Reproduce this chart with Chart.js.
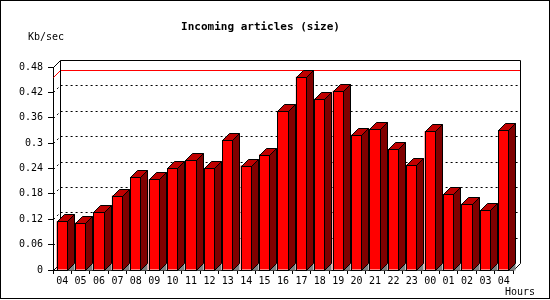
<!DOCTYPE html>
<html><head><meta charset="utf-8">
<style>html,body{margin:0;padding:0;background:#fff;overflow:hidden}</style>
<script src="https://cdn.jsdelivr.net/npm/chart.js@4/dist/chart.umd.min.js"></script>
</head><body>
<canvas id="c" width="550" height="300" style="display:block;width:550px;height:300px"></canvas>
<script>
const hours = ['04','05','06','07','08','09','10','11','12','13','14','15','16','17','18','19','20','21','22','23','00','01','02','03','04'];
const kbPerSec = [0.115,0.112,0.136,0.176,0.219,0.214,0.241,0.259,0.241,0.307,0.247,0.273,0.375,0.457,0.405,0.424,0.320,0.334,0.286,0.249,0.328,0.179,0.157,0.141,0.330];
const yTickValues = [0,0.06,0.12,0.18,0.24,0.30,0.36,0.42,0.48];
const yTickLabels = ['0','0.06','0.12','0.18','0.24','0.3','0.36','0.42','0.48'];
const chartTitle = 'Incoming articles (size)';
const yUnit = 'Kb/sec';
const xUnit = 'Hours';

const DEPTH = 7;

const depthPlugin = {
  id: 'depth3d',
  beforeDatasetsDraw(chart) {
    const ctx = chart.ctx, ca = chart.chartArea, ys = chart.scales.y;
    const L = Math.round(ca.left), R = Math.round(ca.right), T = Math.round(ca.top), B = Math.round(ca.bottom), D = DEPTH;
    ctx.save();
    ctx.lineWidth = 1;
    ctx.strokeStyle = '#000';
    ctx.setLineDash([2, 3]);
    yTickValues.forEach((v, i) => {
      if (i === 0 || i === yTickValues.length - 1) return;
      const y = Math.round(ys.getPixelForValue(v));
      ctx.beginPath();
      ctx.moveTo(L + 0.5, y + 0.5);
      ctx.lineTo(L + D + 0.5, y - D + 0.5);
      ctx.lineTo(R + D + 0.5, y - D + 0.5);
      ctx.stroke();
    });
    ctx.setLineDash([]);
    const maxV = Math.max(...kbPerSec);
    const my = Math.round(ys.getPixelForValue(maxV));
    ctx.strokeStyle = '#ff0000';
    ctx.beginPath();
    ctx.moveTo(L + 0.5, my + 0.5);
    ctx.lineTo(L + D + 0.5, my - D + 0.5);
    ctx.lineTo(R + D + 0.5, my - D + 0.5);
    ctx.stroke();
    ctx.strokeStyle = '#000';
    ctx.beginPath();
    ctx.moveTo(L + 0.5, T + 0.5); ctx.lineTo(L + D + 0.5, T - D + 0.5); ctx.lineTo(R + D + 0.5, T - D + 0.5); ctx.lineTo(R + D + 0.5, B - D + 0.5); ctx.lineTo(R + 0.5, B + 0.5);
    ctx.moveTo(L + D + 0.5, T - D + 0.5); ctx.lineTo(L + D + 0.5, B - D + 0.5); ctx.lineTo(L + 0.5, B + 0.5);
    ctx.stroke();
    ctx.restore();
  },
  afterDatasetsDraw(chart) {
    const ctx = chart.ctx, D = DEPTH;
    const meta = chart.getDatasetMeta(0);
    ctx.save();
    ctx.lineWidth = 1;
    ctx.strokeStyle = '#000';
    meta.data.forEach(el => {
      const p = el.getProps(['x', 'y', 'base', 'width'], true);
      const l = Math.round(p.x - p.width / 2), r = Math.round(p.x + p.width / 2) - 1;
      const t = Math.round(p.y), b = Math.round(p.base);
      ctx.fillStyle = '#808080';
      ctx.beginPath();
      ctx.moveTo(r + 0.5, b + 0.5); ctx.lineTo(r + D + 0.5, b - D + 0.5); ctx.lineTo(r + D + 0.5, b + 0.5); ctx.closePath();
      ctx.fill();
      ctx.fillStyle = '#800000';
      ctx.beginPath();
      ctx.moveTo(r + 0.5, t + 0.5); ctx.lineTo(r + D + 0.5, t - D + 0.5); ctx.lineTo(r + D + 0.5, b - D + 0.5); ctx.lineTo(r + 0.5, b + 0.5); ctx.closePath();
      ctx.fill(); ctx.stroke();
      ctx.fillStyle = '#c00000';
      ctx.beginPath();
      ctx.moveTo(l + 0.5, t + 0.5); ctx.lineTo(l + D + 0.5, t - D + 0.5); ctx.lineTo(r + D + 0.5, t - D + 0.5); ctx.lineTo(r + 0.5, t + 0.5); ctx.closePath();
      ctx.fill(); ctx.stroke();
      ctx.strokeRect(l + 0.5, t + 0.5, r - l, b - t);
    });
    ctx.restore();
  },
  afterDraw(chart) {
    const ctx = chart.ctx;
    ctx.save();
    ctx.fillStyle = '#000';
    ctx.textBaseline = 'middle';
    ctx.font = 'bold 11px "DejaVu Sans Mono"';
    ctx.textAlign = 'center';
    ctx.fillText(chartTitle, 260.5, 27);
    ctx.font = '10px "DejaVu Sans Mono"';
    ctx.textAlign = 'left';
    ctx.fillText(yUnit, 28, 37);
    ctx.fillText(xUnit, 505, 292);
    ctx.strokeStyle = '#000';
    ctx.lineWidth = 1;
    ctx.strokeRect(0.5, 0.5, 549, 298);
    ctx.restore();
  }
};

new Chart(document.getElementById('c'), {
  type: 'bar',
  data: {
    labels: hours,
    datasets: [{
      data: kbPerSec,
      backgroundColor: '#ff0000',
      borderColor: '#000',
      borderWidth: 0,
      barPercentage: 0.6,
      categoryPercentage: 1.0
    }]
  },
  options: {
    responsive: false,
    devicePixelRatio: 1,
    animation: false,
    events: [],
    layout: { padding: { left: 0, right: 37, top: 67, bottom: 0 } },
    plugins: { legend: { display: false }, title: { display: false }, tooltip: { enabled: false } },
    scales: {
      x: {
        type: 'category',
        offset: true,
        grid: { display: true, drawOnChartArea: false, drawTicks: true, tickLength: 4, color: '#000', offset: true },
        border: { display: true, color: '#000' },
        ticks: { color: '#000', font: { family: 'DejaVu Sans Mono', size: 10 }, maxRotation: 0, autoSkip: false, padding: 1 },
        afterFit(s) { s.height = 30; }
      },
      y: {
        min: 0, max: 0.48,
        afterBuildTicks(s) { s.ticks = yTickValues.map(v => ({ value: v })); },
        grid: { display: true, drawOnChartArea: false, drawTicks: true, tickLength: 5, color: '#000' },
        border: { display: true, color: '#000' },
        ticks: { color: '#000', font: { family: 'DejaVu Sans Mono', size: 10 }, padding: 5,
          callback: (v, i) => yTickLabels[i] },
        afterFit(s) { s.width = 53; }
      }
    }
  },
  plugins: [depthPlugin]
});
</script>
</body></html>
